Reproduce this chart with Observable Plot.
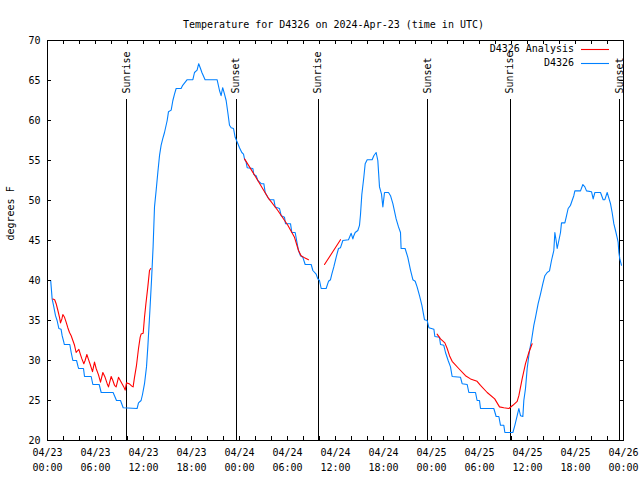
<!DOCTYPE html>
<html>
<head>
<meta charset="utf-8">
<script src="https://cdn.jsdelivr.net/npm/d3@7"></script>
<script src="https://cdn.jsdelivr.net/npm/@observablehq/plot@0.6"></script>
<style>
  html, body { margin: 0; padding: 0; background: #fff; }
  #chart svg { display: block; }
</style>
</head>
<body>
<div id="chart"></div>
<script>
// ---- data (hours since 2024-04-23 00:00 UTC) ----
const title = "Temperature for D4326 on 2024-Apr-23 (time in UTC)";
const yLabel = "degrees F";
const seriesNames = ["D4326 Analysis", "D4326"];

const obsHours = [0,0.4,0.58,0.79,1,1.2,1.42,1.7,1.83,2.04,2.1,2.79,2.96,3.17,3.63,3.83,3.9,4.5,4.625,5.46,5.67,6.46,6.71,8.2,8.375,8.625,9.125,9.46,11.2,11.375,11.7,11.875,12.125,12.375,12.54,12.8,13,13.2,13.375,13.58,13.79,14,14.2,14.4,14.625,14.96,15.125,15.46,15.67,15.875,16.08,16.7,16.9,17.46,18.17,18.375,18.7,18.9,19.125,19.3,19.7,21.2,21.5,21.7,21.9,22.1,22.33,22.54,22.75,22.96,23.25,23.46,23.8,24,24.29,24.5,24.625,24.83,24.96,25.67,25.79,26.08,26.29,26.71,27.04,27.21,27.54,27.75,28.29,28.46,29,29.21,29.625,29.75,30.375,30.54,30.96,31.21,31.375,31.625,31.92,32.21,32.96,33.17,33.58,33.79,34,34.21,34.83,35.125,35.375,35.54,35.79,36.08,36.375,36.625,36.92,37.625,37.96,38.17,38.29,38.46,38.79,39,39.125,39.29,39.54,39.71,39.96,40.58,40.79,41.08,41.29,41.5,41.75,41.92,42.125,42.625,42.875,43.17,43.58,43.875,44.125,44.2,44.7,45.04,45.375,45.67,45.96,46.2,46.5,46.8,47.125,47.46,47.67,48.3,48.42,49,49.125,49.54,49.75,50.08,50.375,50.58,51.625,51.83,52.46,52.67,53.5,53.7,54,54.125,55.79,56.08,56.42,56.625,57.04,57.17,58.17,58.42,58.71,58.92,59.125,59.42,59.54,59.75,59.96,60.25,60.5,60.79,61,61.33,61.625,61.92,62.17,62.46,62.75,63,63.29,63.42,63.58,63.71,63.92,64.125,64.25,64.67,64.83,65.08,65.375,65.58,65.79,65.92,66.625,66.92,67.17,67.375,68,68.21,68.42,69.125,69.46,69.67,69.96,70.17,70.375,70.58,70.79,71,71.2,71.33,71.42,71.54,71.75];
const obsTemp = [40,40,37.7,36.7,35.6,35,34,33.9,33.1,32.3,32,32,31,30,30,29.2,29,29,28,28,27,27,26,26,25.6,25,25,24.1,24,24.7,25,25.75,27.1,29.2,31.7,36.25,40,44.2,49.2,51.25,53.5,55.6,56.9,57.7,58.5,60,61.1,61.3,62.5,63.3,64,64,64.4,65.1,65.1,66,66.3,67.1,66.5,66,65.1,65.1,63.75,63.1,64.1,63.4,62.5,61,59.4,59.1,59,57.9,57.1,56.6,56,55.8,55.2,54.8,54.1,54,53.25,53.1,52.5,52.1,52.1,51,50.4,50.1,50.1,49.2,49,48.1,47.9,47.1,47.1,46,46,44.6,43.75,43.1,42.9,42,42,41.25,40.8,40.2,40,39,39,39.9,40.1,40.8,41.7,42.9,44,44.1,45,45.1,45.9,45.2,45.6,46,46.25,46.9,48.25,50.75,52.9,54.6,55.1,55.1,55.6,56,55,51.7,50.8,49.2,51,51,50.6,49.6,47.7,46.7,46,44,44,42.9,41.3,40.1,39.9,39.2,38.1,36.9,35.1,35,34.1,33.9,33,32.9,32,31.9,31,30,29.2,28,27.9,27.1,27,26,26,25,25,24,24,23,23,21.9,21.9,21,21,21.9,23.1,24,23.1,23,25,26.5,29,31.25,32.5,34.4,35.4,37.1,38.3,39.6,40.6,41,41.2,42.5,43.75,46,45,44,45,46,47.2,47.2,47.9,49,49.4,50,50.6,51.2,51.2,52,51.7,51.2,51.1,50.2,51,51,50.1,50.1,51,50.3,49.6,48.5,47.1,46.25,45.4,44.8,43.5,42.7,41.9];

// analysis series: null marks a gap
const anaHours = [0.67,0.9,1.08,1.3,1.5,1.625,1.8,1.92,2.13,2.33,2.54,2.75,2.96,3.17,3.38,3.58,3.79,3.92,4.1,4.3,4.54,4.7,4.92,5.1,5.375,5.625,5.875,6.08,6.375,6.625,6.92,7.2,7.46,7.625,7.96,8.17,8.375,8.58,8.875,9.2,9.54,9.71,9.875,10.2,10.54,10.7,10.875,11.125,11.375,11.58,11.7,11.96,12.125,12.3,12.54,12.75,12.9,18,24.625,25.25,26.29,27.54,28.79,30.04,30.875,31.375,31.7,32.2,32.625,33.5,34.625,35.6,36.625,42,48.7,49.125,49.67,49.96,50.25,50.58,51.4,52.25,52.875,53.7,54.125,54.96,55.9,56.5,57.04,57.67,58.17,58.71,58.92,59.33,59.75,60.17,60.58];
const anaTemp = [37.7,37.6,37.1,36.25,35.4,34.7,35.2,35.75,35.4,34.8,34.1,33.5,33.1,32.5,31.9,31,31.25,31.4,30.8,30.2,29.6,30,30.75,30.2,29.4,28.6,29.8,29,28.2,27.3,28.5,27.9,27.1,26.7,28,27.5,26.9,26.7,27.9,27.3,26.7,26.3,27.2,27.1,26.8,26.7,27.9,29.4,31.5,32.9,33.3,33.4,35.4,37.1,39.2,41.25,41.5,null,55.2,54.2,52.5,50.4,48.75,46.9,45.4,43.75,43.1,42.8,42.6,null,42,43.5,45.1,null,33.3,32.7,32.2,31.5,30.6,29.9,29,28.1,27.7,27.4,26.9,26,25.2,24.2,24.1,24,24.4,24.9,25.6,27.7,29.6,31,32.1];

const eventHours = [9.88, 23.6, 33.85, 47.55, 57.85, 71.5];
const eventLabels = ["Sunrise", "Sunset", "Sunrise", "Sunset", "Sunrise", "Sunset"];

const xTickHours = [0,6,12,18,24,30,36,42,48,54,60,66,72];
const xTickDates = ["04/23","04/23","04/23","04/23","04/24","04/24","04/24","04/24","04/25","04/25","04/25","04/25","04/26"];
const xTickTimes = ["00:00","06:00","12:00","18:00","00:00","06:00","12:00","18:00","00:00","06:00","12:00","18:00","00:00"];
const xMinorHours = d3.range(0, 73, 2);
const yTicks = [20,25,30,35,40,45,50,55,60,65,70];

const colors = {analysis: "#ff0000", obs: "#0080ff"};

// ---- build ----
const W = 640, H = 480, mL = 47, mR = 17, mT = 40, mB = 40;
const pw = W - mL - mR, ph = H - mT - mB;

const obs = obsHours.map((h, i) => ({h, t: obsTemp[i]}));
const ana = anaHours.map((h, i) => ({h, t: anaTemp[i]}));
const events = eventHours.map((h, i) => ({h, label: eventLabels[i]}));

const tick = 4;
const chart = Plot.plot({
  width: W, height: H,
  marginLeft: mL, marginRight: mR, marginTop: mT, marginBottom: mB,
  style: {fontFamily: "'DejaVu Sans Mono', monospace", fontSize: "10px", color: "#000", background: "#fff"},
  x: {domain: [0, 72], label: null},
  y: {domain: [20, 70], label: null},
  marks: [
    Plot.ruleX(events, {x: "h", insetTop: 59, stroke: "#000", shapeRendering: "crispEdges"}),
    Plot.text(events, {x: "h", text: "label", frameAnchor: "top", dy: 53, dx: -4, rotate: -90, textAnchor: "start", fill: "#000"}),
    Plot.line(obs, {x: "h", y: "t", stroke: colors.obs, strokeWidth: 1.1}),
    Plot.line(ana, {x: "h", y: "t", stroke: colors.analysis, strokeWidth: 1.1}),
    // ticks (inward, mirrored)
    Plot.ruleX(xMinorHours, {insetTop: ph - tick, stroke: "#000", shapeRendering: "crispEdges"}),
    Plot.ruleX(xMinorHours, {insetBottom: ph - tick, stroke: "#000", shapeRendering: "crispEdges"}),
    Plot.ruleY(yTicks, {insetRight: pw - tick, stroke: "#000", shapeRendering: "crispEdges"}),
    Plot.ruleY(yTicks, {insetLeft: pw - tick, stroke: "#000", shapeRendering: "crispEdges"}),
    Plot.axisX(xTickHours, {tickSize: 0, tickPadding: 8, tickFormat: d => xTickDates[xTickHours.indexOf(d)], label: null}),
    Plot.axisX(xTickHours, {tickSize: 0, tickPadding: 23, tickFormat: d => xTickTimes[xTickHours.indexOf(d)], label: null}),
    Plot.axisY(yTicks, {tickSize: 0, tickPadding: 7, label: null}),
    Plot.frame({stroke: "#000", shapeRendering: "crispEdges"}),
    Plot.text([title], {frameAnchor: "top", dy: -20, dx: -2, fill: "#000"}),
    Plot.text([yLabel], {frameAnchor: "left", dx: -37, rotate: -90, fill: "#000"})
  ]
});

// legend (frame-relative pixels)
const svg = d3.select(chart);
const leg = svg.append("g").attr("font-family", "'DejaVu Sans Mono', monospace").attr("font-size", 10);
seriesNames.forEach((name, i) => {
  const yy = mT + 9 + i * 14;
  leg.append("text").attr("x", W - mR - 49).attr("y", yy).attr("dy", "0.32em")
    .attr("text-anchor", "end").attr("fill", "#000").text(name);
  leg.append("line").attr("x1", W - mR - 42).attr("x2", W - mR - 14)
    .attr("y1", yy + 0.5).attr("y2", yy + 0.5)
    .attr("stroke", i === 0 ? colors.analysis : colors.obs).attr("stroke-width", 1.1);
});

document.getElementById("chart").appendChild(chart);
</script>
</body>
</html>
